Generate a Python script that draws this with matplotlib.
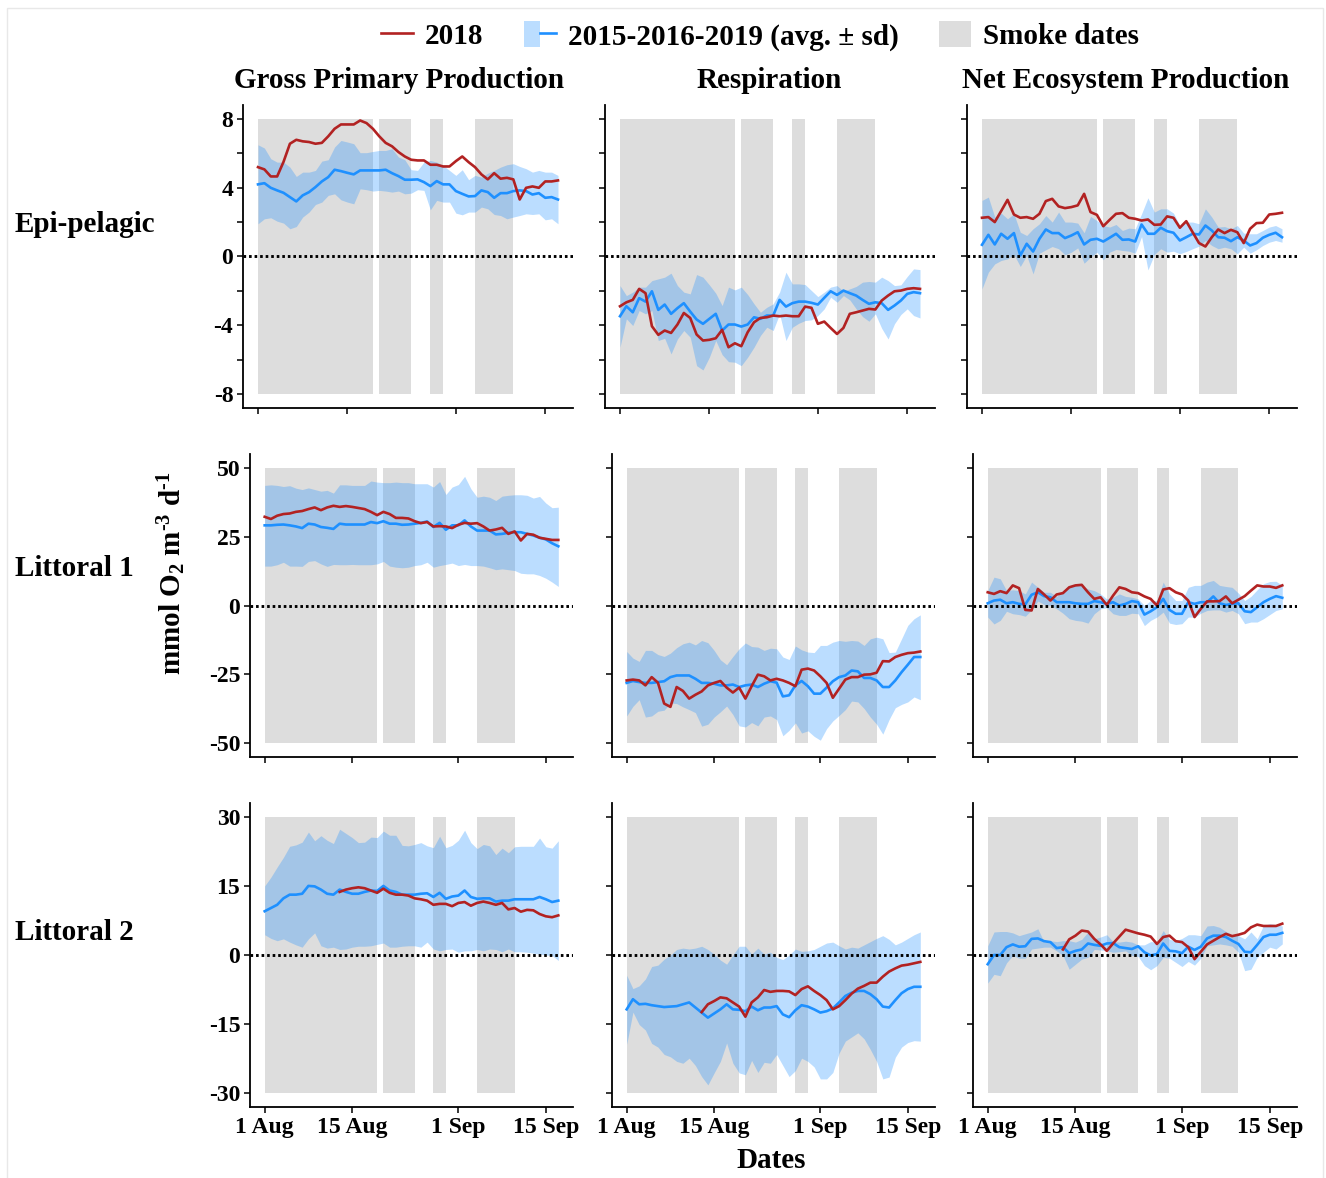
import numpy as np
import pandas as pd
import matplotlib
matplotlib.use("Agg")
import matplotlib.pyplot as plt
from matplotlib.lines import Line2D
from matplotlib.patches import Patch, Rectangle
from matplotlib.legend_handler import HandlerTuple

plt.rcParams['font.family'] = 'Liberation Serif'
plt.rcParams['font.weight'] = 'bold'
plt.rcParams['font.size'] = 16
plt.rcParams['mathtext.fontset'] = 'custom'
plt.rcParams['mathtext.rm'] = 'Liberation Serif:bold'
plt.rcParams['mathtext.bf'] = 'Liberation Serif:bold'
plt.rcParams['mathtext.default'] = 'bf'

# ---- data ----
dates = pd.date_range('2018-08-01', '2018-09-17')
smoke_start = ['2018-08-01', '2018-08-20', '2018-08-28', '2018-09-04']
smoke_end = ['2018-08-19', '2018-08-25', '2018-08-30', '2018-09-10']
date_ticks = ['2018-08-01', '2018-08-15', '2018-09-01', '2018-09-15']
date_labels = ['1 Aug', '15 Aug', '1 Sep', '15 Sep']
columns = ['Gross Primary Production', 'Respiration', 'Net Ecosystem Production']
rows = ['Epi-pelagic', 'Littoral 1', 'Littoral 2']
row_lim = [8, 50, 30]
row_ticks = [[-8, -6, -4, -2, 0, 2, 4, 6, 8], [-50, -25, 0, 25, 50], [-30, -15, 0, 15, 30]]
row_ticklabels = [['-8', '', '-4', '', '0', '', '4', '', '8'],
                  ['-50', '-25', '0', '25', '50'],
                  ['-30', '-15', '0', '15', '30']]

# Epi-pelagic
gpp_epi_2018 = [5.19, 5.06, 4.65, 4.65, 5.5, 6.55, 6.78, 6.69, 6.65, 6.55, 6.6, 6.98, 7.42, 7.67, 7.67, 7.67,
                7.9, 7.75, 7.42, 6.98, 6.6, 6.4, 6.07, 5.81, 5.62, 5.58, 5.58, 5.33, 5.33, 5.23, 5.23, 5.54,
                5.81, 5.48, 5.19, 4.77, 4.48, 4.84, 4.52, 4.57, 4.48, 3.31, 3.99, 4.07, 3.99, 4.36, 4.36, 4.42]
gpp_epi_mean = [4.19, 4.26, 3.99, 3.84, 3.7, 3.45, 3.2, 3.55, 3.74, 4.03, 4.36, 4.61, 5.04, 4.96, 4.86, 4.77,
                5.0, 5.0, 5.0, 5.0, 5.04, 4.84, 4.67, 4.46, 4.46, 4.48, 4.32, 4.09, 4.38, 4.19, 4.19, 3.8,
                3.64, 3.49, 3.51, 3.84, 3.74, 3.41, 3.68, 3.68, 3.8, 3.84, 3.8, 3.6, 3.68, 3.41, 3.45, 3.31]
gpp_epi_hi = [6.49, 6.3, 5.68, 5.48, 5.48, 5.19, 4.65, 4.9, 4.9, 5.0, 5.54, 5.62, 6.36, 6.74, 6.65, 6.55,
              6.03, 6.03, 6.1, 6.16, 6.16, 6.26, 5.78, 5.62, 5.04, 5.0, 5.48, 5.58, 5.48, 5.29, 5.0, 4.71,
              5.04, 4.46, 4.71, 4.61, 4.84, 5.0, 5.19, 5.33, 5.39, 5.23, 5.1, 4.9, 5.0, 4.9, 4.9, 4.71]
gpp_epi_lo = [1.9, 2.19, 2.25, 2.05, 1.94, 1.61, 1.74, 2.29, 2.58, 3.02, 3.16, 3.55, 3.64, 3.29, 3.16, 3.06,
              3.93, 3.88, 3.8, 3.84, 3.8, 3.74, 3.8, 3.64, 3.68, 3.88, 3.84, 2.71, 3.26, 3.16, 3.16, 2.52,
              2.42, 2.58, 2.58, 2.87, 2.77, 2.44, 2.38, 2.19, 2.29, 2.38, 2.48, 2.44, 2.48, 2.13, 2.19, 1.9]

resp_epi_2018 = [-2.89, -2.66, -2.52, -1.88, -2.13, -4.05, -4.55, -4.3, -4.44, -3.95, -3.28, -3.57, -4.53,
                 -4.88, -4.84, -4.75, -4.26, -5.27, -5.04, -5.21, -4.4, -3.82, -3.57, -3.53, -3.43, -3.47,
                 -3.43, -3.47, -3.47, -2.91, -2.98, -3.91, -3.78, -4.15, -4.5, -4.15, -3.33, -3.24, -3.14,
                 -3.04, -3.08, -2.56, -2.27, -2.02, -1.98, -1.88, -1.84, -1.88]
resp_epi_mean = [-3.47, -2.89, -3.24, -2.42, -2.62, -2.02, -3.1, -2.79, -3.33, -3.0, -2.71, -3.2, -3.66,
                 -3.91, -3.62, -3.33, -4.3, -3.95, -3.95, -4.07, -3.95, -3.53, -3.62, -3.43, -3.43, -2.52,
                 -2.91, -2.71, -2.62, -2.62, -2.69, -2.79, -2.4, -2.02, -2.23, -1.98, -2.13, -2.27, -2.52,
                 -2.75, -2.66, -2.71, -3.1, -2.85, -2.56, -2.17, -2.07, -2.13]
resp_epi_hi = [-1.69, -2.27, -2.07, -1.78, -1.78, -1.4, -1.3, -1.2, -0.97, -1.69, -2.07, -2.17, -1.05, -1.2,
               -1.65, -2.13, -2.85, -1.78, -1.94, -1.78, -2.21, -2.75, -3.24, -2.95, -2.75, -2.07, -0.91,
               -1.59, -1.59, -1.63, -1.98, -2.33, -2.07, -1.78, -1.69, -2.02, -1.88, -1.74, -1.49, -1.45,
               -1.49, -1.2, -1.4, -1.69, -1.65, -1.16, -0.72, -0.76]
resp_epi_lo = [-5.27, -3.62, -4.01, -3.14, -3.33, -3.14, -4.88, -4.75, -5.66, -4.79, -4.3, -4.69, -6.34,
               -6.59, -5.85, -4.88, -5.7, -6.11, -6.14, -6.34, -5.85, -5.27, -4.59, -4.11, -4.3, -3.33,
               -4.88, -4.11, -3.88, -3.72, -3.68, -3.43, -3.04, -2.36, -2.66, -2.27, -2.52, -3.04, -3.49,
               -3.76, -3.33, -4.17, -4.79, -3.91, -3.37, -3.04, -3.43, -3.57]

nep_epi_2018 = [2.25, 2.29, 2.0, 2.64, 3.29, 2.44, 2.25, 2.29, 2.19, 2.48, 3.22, 3.35, 2.91, 2.81, 2.87,
                2.97, 3.64, 2.58, 2.42, 1.76, 2.13, 2.48, 2.52, 2.25, 2.19, 2.09, 2.15, 1.84, 1.86, 2.33,
                2.25, 1.67, 2.05, 1.41, 0.78, 0.58, 1.12, 1.57, 1.36, 1.55, 1.41, 0.78, 1.61, 1.94, 1.96,
                2.44, 2.48, 2.54]
nep_epi_mean = [0.68, 1.26, 0.7, 1.32, 1.03, 1.36, 0.06, 0.74, 0.29, 1.03, 1.57, 1.36, 1.36, 1.07, 1.22,
                1.41, 0.7, 0.97, 1.03, 0.87, 1.09, 1.32, 0.97, 0.99, 0.87, 1.86, 1.32, 1.32, 1.67, 1.47,
                1.38, 0.93, 1.12, 1.32, 1.28, 1.8, 1.51, 1.12, 1.09, 0.89, 1.12, 0.93, 0.64, 0.78, 1.09,
                1.26, 1.38, 1.12]
nep_epi_hi = [3.26, 3.45, 2.29, 2.52, 2.19, 2.48, 1.41, 1.22, 1.61, 1.9, 2.38, 2.0, 2.58, 2.0, 2.0, 1.94,
              1.38, 2.33, 2.09, 1.8, 1.71, 1.86, 1.51, 1.65, 1.61, 2.48, 3.41, 2.58, 2.77, 2.77, 2.52, 1.8,
              2.0, 2.0, 1.9, 2.77, 2.29, 1.71, 1.74, 1.61, 1.8, 1.36, 1.32, 1.32, 1.51, 1.71, 1.8, 1.61]
nep_epi_lo = [-1.88, -0.91, -0.43, -0.23, -0.14, 0.12, -0.58, 0.06, -1.01, 0.19, 0.39, 0.58, 0.45, 0.1,
              0.25, 0.5, -0.39, -0.04, 0.25, -0.19, 0.25, 0.41, 0.35, 0.31, 0.19, 1.16, -0.78, 0.12, 0.45,
              0.25, 0.31, 0.16, 0.29, 0.45, 0.6, 0.93, 0.64, 0.45, 0.54, 0.45, 0.16, 0.54, 0.19, 0.39,
              0.64, 0.83, 0.93, 0.83]

# Littoral 1
gpp_l1_2018 = [32.2, 31.4, 32.6, 33.2, 33.4, 34.0, 34.3, 35.0, 35.6, 34.6, 35.6, 36.2, 35.8, 36.1, 35.8,
               35.4, 35.0, 34.0, 32.8, 34.0, 33.2, 31.8, 31.8, 31.6, 30.6, 29.9, 30.3, 28.7, 28.8, 28.7,
               28.1, 29.3, 30.0, 29.7, 29.9, 28.7, 27.2, 27.6, 28.2, 26.0, 26.9, 23.6, 26.0, 25.7, 24.6,
               24.2, 23.8, 23.8]
gpp_l1_mean = [29.1, 29.1, 29.3, 29.4, 29.1, 28.7, 28.1, 29.7, 29.4, 28.5, 28.2, 27.8, 29.7, 29.4, 29.4,
               29.4, 29.4, 30.3, 29.9, 30.6, 29.7, 29.7, 29.3, 29.4, 29.7, 30.0, 30.5, 28.5, 30.0, 27.5,
               29.1, 29.1, 30.9, 28.7, 27.2, 27.2, 27.2, 25.8, 26.0, 26.4, 26.6, 26.6, 26.0, 25.4, 24.6,
               24.0, 22.6, 21.5]
gpp_l1_hi = [43.6, 43.8, 43.6, 43.2, 43.5, 42.6, 42.1, 42.7, 42.1, 41.5, 41.8, 40.8, 43.8, 43.8, 43.6, 43.6,
             43.6, 45.2, 44.8, 44.6, 44.6, 44.8, 44.6, 44.6, 44.2, 44.2, 44.2, 43.0, 45.0, 40.3, 43.0, 43.9,
             46.9, 42.4, 39.3, 39.7, 39.3, 38.1, 39.7, 40.0, 40.2, 40.2, 40.0, 39.0, 39.6, 37.2, 35.5, 35.7]
gpp_l1_lo = [14.3, 14.3, 14.8, 15.7, 14.3, 14.3, 14.2, 16.0, 16.3, 15.1, 14.2, 14.9, 14.8, 14.8, 14.9, 14.8,
             14.8, 14.8, 15.1, 16.0, 14.3, 13.9, 13.7, 13.9, 14.5, 14.8, 15.7, 13.9, 14.5, 14.9, 15.4, 14.5,
             14.9, 14.5, 14.5, 14.3, 13.7, 13.0, 13.3, 13.0, 12.7, 11.7, 11.5, 11.5, 10.9, 9.9, 8.5, 6.9]

resp_l1_2018 = [-27.2, -26.9, -27.2, -29.0, -26.0, -28.0, -35.6, -36.8, -29.6, -31.0, -33.8, -32.4, -31.2,
                -29.0, -28.1, -27.4, -29.8, -31.6, -29.8, -33.8, -29.3, -25.1, -25.7, -27.2, -26.6, -27.2,
                -28.1, -29.3, -23.3, -22.9, -23.6, -25.7, -28.1, -33.5, -30.2, -26.9, -26.0, -26.0, -25.1,
                -25.0, -24.4, -20.2, -20.3, -18.7, -17.9, -17.3, -17.1, -16.7]
resp_l1_mean = [-28.1, -27.4, -27.8, -28.1, -28.1, -27.8, -27.5, -26.0, -25.4, -25.4, -25.4, -26.6, -28.1,
                -28.1, -28.4, -29.0, -29.0, -28.7, -29.6, -29.0, -28.7, -29.6, -28.4, -27.5, -28.0, -33.0,
                -32.6, -29.0, -27.4, -29.3, -32.0, -32.0, -29.8, -27.5, -26.0, -25.4, -23.6, -23.9, -26.3,
                -26.3, -27.2, -29.6, -29.6, -27.2, -24.2, -21.5, -18.7, -18.7]
resp_l1_hi = [-16.7, -19.1, -20.3, -16.3, -16.3, -17.8, -18.5, -17.3, -15.3, -13.9, -13.3, -14.3, -12.7,
              -13.5, -16.3, -19.7, -21.5, -18.5, -15.7, -13.6, -14.9, -15.1, -16.3, -15.5, -15.7, -18.7,
              -19.6, -14.7, -16.1, -16.9, -17.1, -14.5, -14.5, -13.3, -12.7, -13.0, -12.7, -12.9, -14.5,
              -12.1, -11.5, -12.1, -17.1, -16.9, -12.1, -7.2, -4.8, -3.4]
resp_l1_lo = [-40.1, -36.6, -34.2, -40.5, -40.1, -38.4, -38.0, -35.4, -35.6, -36.8, -37.8, -38.9, -43.8,
              -43.1, -40.5, -38.6, -36.5, -39.6, -43.7, -44.1, -42.5, -43.7, -40.5, -40.1, -41.4, -47.3,
              -45.3, -42.6, -46.3, -45.5, -47.5, -48.9, -44.7, -41.9, -39.9, -37.8, -34.7, -35.0, -37.4,
              -40.5, -43.1, -46.7, -41.4, -37.1, -35.9, -35.0, -33.2, -34.2]

nep_l1_2018 = [4.8, 4.2, 5.2, 4.5, 7.3, 6.3, -1.6, -1.8, 6.0, 4.0, 1.8, 4.0, 4.5, 6.6, 7.3, 7.5, 4.8, 2.4,
               3.0, 0.2, 3.6, 6.6, 6.0, 4.8, 4.5, 3.3, 2.4, 0.0, 5.8, 6.3, 4.8, 4.0, 1.8, -4.2, -1.2, 1.5,
               1.5, 1.6, 3.3, 0.8, 2.1, 3.4, 5.4, 7.3, 6.9, 6.9, 6.4, 7.3]
nep_l1_mean = [0.8, 1.8, 2.1, 0.8, 1.2, 0.6, 0.4, 3.9, 4.8, 3.4, 3.0, 1.2, 1.2, 1.2, 0.8, 0.6, 0.6, 1.6,
               1.2, 0.6, 1.2, 0.0, 0.6, 1.6, 1.2, -3.3, -2.1, -0.6, 2.4, -1.6, -3.0, -3.0, 1.2, 0.6, 1.2,
               1.2, 3.3, 0.8, 0.2, 0.6, 0.8, -2.1, -2.4, -0.6, 1.2, 2.4, 3.4, 2.8]
nep_l1_hi = [5.4, 10.3, 9.7, 5.4, 5.7, 5.4, 4.2, 8.5, 6.6, 4.8, 4.8, 3.3, 5.4, 7.3, 7.3, 7.3, 6.0, 5.4, 4.2,
             2.4, 3.0, 4.2, 3.3, 3.0, 2.4, 0.0, 1.8, 1.8, 8.5, 4.2, 1.8, 1.8, 6.6, 7.3, 7.3, 8.5, 9.1, 7.3,
             6.9, 6.6, 4.5, 1.8, 3.3, 5.7, 7.9, 8.7, 8.8, 7.3]
nep_l1_lo = [-4.2, -6.7, -5.4, -2.1, -3.0, -3.3, -3.9, -1.6, 1.6, 0.4, 0.0, -1.2, -2.8, -4.8, -5.4, -5.7,
             -6.4, -3.0, -1.2, -0.8, -3.0, -3.6, -3.6, -2.8, -3.0, -7.3, -5.4, -4.2, -2.4, -6.4, -6.9, -6.6,
             -4.2, -4.2, -2.8, -1.8, -1.6, -1.6, -2.4, -1.8, -3.0, -6.6, -6.0, -6.0, -4.8, -3.3, -1.8, -1.2]

# Littoral 2 (2018 series start on 13 Aug)
l2_start = 12
gpp_l2_2018 = [13.7, 14.2, 14.5, 14.7, 14.5, 14.0, 13.5, 14.4, 13.5, 13.1, 13.1, 12.9, 12.3, 12.1, 11.8,
               10.9, 11.1, 11.1, 10.6, 11.3, 11.5, 10.7, 11.3, 11.6, 11.3, 10.9, 11.3, 9.9, 10.2, 9.4, 9.8,
               9.7, 8.9, 8.4, 8.2, 8.6]
gpp_l2_mean = [9.5, 10.2, 10.9, 12.3, 13.1, 13.1, 13.3, 15.0, 14.9, 14.2, 13.3, 13.1, 14.2, 13.7, 13.3,
               13.3, 13.7, 14.0, 13.9, 15.0, 14.0, 13.7, 13.1, 13.1, 13.1, 13.3, 13.4, 12.6, 13.5, 12.2,
               12.7, 12.9, 14.0, 12.6, 12.2, 12.3, 12.3, 11.6, 11.8, 11.8, 12.1, 12.1, 12.1, 12.1, 12.6,
               12.1, 11.5, 11.8]
gpp_l2_hi = [15.0, 16.9, 19.1, 21.2, 23.6, 23.9, 24.5, 26.7, 24.8, 25.9, 24.9, 24.2, 27.3, 26.4, 25.5, 24.4,
             24.5, 25.6, 25.5, 26.9, 26.0, 26.0, 23.8, 23.7, 24.0, 24.4, 23.7, 23.3, 25.8, 23.3, 23.8, 24.9,
             27.1, 24.4, 23.1, 24.0, 23.7, 21.8, 23.2, 22.2, 23.5, 23.6, 23.6, 23.6, 25.4, 23.5, 23.2, 24.8]
gpp_l2_lo = [4.4, 3.6, 3.1, 3.5, 2.8, 2.2, 1.7, 3.5, 4.8, 2.0, 1.5, 1.7, 1.2, 1.3, 1.7, 1.9, 1.9, 2.0, 2.3,
             2.6, 1.7, 1.7, 1.9, 2.0, 2.0, 1.7, 2.8, 1.3, 0.9, 1.2, 1.3, 0.6, 0.9, 0.9, 1.2, 0.9, 1.3, 1.2,
             0.7, 1.3, 0.7, 0.7, 0.6, 0.4, 0.2, 0.0, -0.1, -1.2]

resp_l2_2018 = [-12.4, -10.7, -10.0, -9.2, -9.4, -10.3, -11.2, -13.4, -10.3, -9.2, -7.6, -8.0, -7.8, -7.8,
                -7.9, -8.7, -7.4, -6.8, -7.8, -8.7, -9.8, -11.8, -11.1, -9.8, -8.4, -7.3, -6.7, -6.0, -6.0,
                -4.7, -3.6, -2.9, -2.3, -2.1, -1.8, -1.5]
resp_l2_mean = [-11.8, -9.6, -10.7, -10.6, -10.9, -11.1, -11.3, -11.2, -11.1, -10.7, -10.3, -11.4, -12.5,
                -13.6, -12.7, -11.8, -10.7, -11.8, -11.9, -12.2, -11.2, -12.0, -11.4, -11.4, -11.1, -12.9,
                -13.5, -12.0, -10.9, -11.2, -11.8, -12.5, -12.2, -11.6, -10.3, -8.9, -8.2, -7.8, -7.8, -8.5,
                -9.6, -11.2, -11.4, -9.8, -8.3, -7.4, -6.9, -6.9]
resp_l2_hi = [-4.4, -7.3, -6.7, -5.2, -2.5, -2.2, -0.9, 0.0, 1.2, 1.5, 1.3, 1.5, 1.9, 1.2, 0.2, -1.1, -2.0,
              0.0, 1.9, 1.9, 0.2, 1.5, 0.2, 0.6, -0.5, -1.0, 0.0, 1.3, 0.8, 0.9, 1.2, 1.9, 2.6, 2.8, 2.0, 1.3,
              1.7, 1.5, 2.2, 2.9, 3.6, 4.2, 3.4, 2.2, 2.8, 3.6, 4.4, 5.0]
resp_l2_lo = [-19.4, -12.4, -15.1, -16.3, -19.2, -20.0, -21.6, -22.1, -23.1, -23.5, -22.4, -24.0, -26.4,
              -28.2, -25.6, -23.1, -19.1, -23.5, -25.6, -26.0, -22.9, -25.5, -23.3, -23.5, -21.6, -24.0,
              -26.4, -25.1, -22.4, -23.1, -24.3, -26.9, -26.9, -25.5, -21.3, -18.7, -17.8, -16.9, -18.2,
              -20.5, -23.1, -26.9, -26.5, -22.2, -20.0, -19.0, -18.6, -18.7]

nep_l2_2018 = [1.2, 3.4, 4.2, 5.3, 5.1, 3.5, 2.3, 0.9, 2.5, 4.0, 5.5, 5.1, 4.7, 4.4, 4.0, 2.4, 3.9, 4.2, 3.0,
               2.8, 1.7, -0.9, 0.7, 2.3, 3.1, 3.9, 4.6, 4.1, 4.4, 4.8, 6.0, 6.6, 6.3, 6.3, 6.3, 6.8]
nep_l2_mean = [-2.0, 0.0, 0.0, 1.7, 2.3, 1.8, 1.9, 3.5, 3.6, 3.0, 2.8, 1.5, 1.7, 0.4, 0.9, 1.2, 2.5, 2.2,
               2.0, 2.5, 2.6, 1.7, 1.5, 1.3, 1.9, 0.6, -0.1, 0.2, 2.5, 0.9, 0.8, 0.4, 1.8, 1.1, 1.8, 3.6, 4.2,
               4.2, 3.9, 3.1, 2.4, 0.7, 0.6, 2.2, 3.9, 4.4, 4.4, 4.8]
nep_l2_hi = [2.0, 5.0, 5.1, 5.1, 4.8, 4.2, 4.6, 5.0, 5.7, 2.8, 3.1, 2.9, 3.1, 3.1, 2.8, 3.4, 5.0, 3.5, 3.9,
             4.4, 2.9, 2.8, 3.0, 2.8, 2.2, 2.2, 2.9, 2.8, 5.3, 3.4, 3.1, 3.6, 4.4, 4.4, 4.2, 6.3, 6.4, 6.0,
             5.1, 4.4, 4.2, 3.5, 5.0, 3.5, 6.4, 6.8, 6.6, 6.3]
nep_l2_lo = [-6.1, -4.2, -4.5, -1.7, -0.1, -0.7, -0.7, 1.3, 1.5, 1.7, 1.7, 0.9, -0.1, -3.1, -2.0, -0.9,
             -0.5, 1.2, 1.1, 0.9, 0.6, 0.7, 0.9, -0.1, -0.3, -2.3, -3.2, -2.3, -0.5, -0.7, -1.6, -2.5, -1.4,
             -2.2, -0.7, 2.0, 2.2, 2.4, 2.2, 1.9, 0.6, -3.4, -3.1, -0.5, 0.6, 1.7, 1.3, 2.4]

panels = [
    [(gpp_epi_2018, 0, gpp_epi_mean, gpp_epi_lo, gpp_epi_hi),
     (resp_epi_2018, 0, resp_epi_mean, resp_epi_lo, resp_epi_hi),
     (nep_epi_2018, 0, nep_epi_mean, nep_epi_lo, nep_epi_hi)],
    [(gpp_l1_2018, 0, gpp_l1_mean, gpp_l1_lo, gpp_l1_hi),
     (resp_l1_2018, 0, resp_l1_mean, resp_l1_lo, resp_l1_hi),
     (nep_l1_2018, 0, nep_l1_mean, nep_l1_lo, nep_l1_hi)],
    [(gpp_l2_2018, l2_start, gpp_l2_mean, gpp_l2_lo, gpp_l2_hi),
     (resp_l2_2018, l2_start, resp_l2_mean, resp_l2_lo, resp_l2_hi),
     (nep_l2_2018, l2_start, nep_l2_mean, nep_l2_lo, nep_l2_hi)],
]

# ---- style ----
RED = '#B22222'
BLUE = '#1E90FF'
SMOKE = '#DDDDDD'
W, H = 1326, 1178
BIG = 21      # titles, labels, legend
TICK = 17     # tick labels

# panel boxes in pixels
row_top = [105, 454, 803]
row_bottom = [408, 757, 1107]
col_left = [[243, 605, 967], [250, 612, 973], [250, 612, 973]]
col_right = [573, 935, 1297]

fig = plt.figure(figsize=(W / 100, H / 100), dpi=100)

pad = pd.Timedelta(days=2.35)
for r in range(3):
    for c in range(3):
        l, rr = col_left[r][c], col_right[c]
        t, b = row_top[r], row_bottom[r]
        ax = fig.add_axes([l / W, 1 - b / H, (rr - l) / W, (b - t) / H])
        red, start, mean, lo, hi = panels[r][c]
        lim = row_lim[r]

        for s0, s1 in zip(smoke_start, smoke_end):
            ax.fill_between(pd.to_datetime([s0, s1]), -lim, lim, color=SMOKE, lw=0, zorder=1)
        ax.fill_between(dates, lo, hi, color=BLUE, alpha=0.3, lw=0, zorder=2)
        ax.plot(dates, mean, color=BLUE, lw=1.9, zorder=3)
        ax.plot(dates[start:], red, color=RED, lw=1.9, zorder=4)
        ax.axhline(0, color='black', lw=2.1, ls=(0, (0.9, 1.0)), zorder=5)

        ax.set_xlim(dates[0] - pad, dates[-1] + pad)
        ax.set_ylim(-lim * 1.1, lim * 1.1)
        ax.set_xticks(pd.to_datetime(date_ticks))
        ax.set_yticks(row_ticks[r])
        ax.set_xticklabels(date_labels if r == 2 else [''] * 4)
        ax.set_yticklabels(row_ticklabels[r] if c == 0 else [''] * len(row_ticks[r]))
        ax.tick_params(direction='out', length=4, width=1.1, pad=3, labelsize=TICK)
        for side in ['top', 'right']:
            ax.spines[side].set_visible(False)
        for side in ['left', 'bottom']:
            ax.spines[side].set_linewidth(1.3)

# column titles and row labels
for x, title in zip([399, 769, 1126], columns):
    fig.text(x / W, 1 - 80 / H, title, ha='center', va='center', fontsize=BIG)
for y, name in zip([225, 568, 933], rows):
    fig.text(15 / W, 1 - y / H, name, ha='left', va='center', fontsize=BIG)

fig.text(172 / W, 1 - 573 / H, r'mmol O$_{2}$ m$^{\text{-}3}$ d$^{\text{-}1}$', rotation=90,
         ha='center', va='center', fontsize=BIG)
fig.text(771 / W, 1 - 1160 / H, 'Dates', ha='center', va='center', fontsize=BIG)

# legend
handles = [Line2D([], [], color=RED, lw=1.9),
           (Patch(facecolor=BLUE, alpha=0.3, lw=0), Line2D([], [], color=BLUE, lw=1.9)),
           Patch(facecolor=SMOKE, lw=0)]
labels = ['2018', '2015-2016-2019 (avg. ± sd)', 'Smoke dates']
fig.legend(handles, labels, loc='center', bbox_to_anchor=(760 / W, 1 - 36 / H), ncol=3,
           frameon=False, fontsize=BIG, handlelength=1.1, handleheight=1.0,
           handletextpad=0.4, columnspacing=1.4,
           handler_map={tuple: HandlerTuple(ndivide=None, pad=0)})

# faint page border
fig.add_artist(Rectangle((7 / W, -0.01), 1316 / W, 1.0 + 0.01 - 8 / H, transform=fig.transFigure,
                         fill=False, edgecolor='#E8E8E8', lw=1))

fig.savefig('out.png', dpi=100)
